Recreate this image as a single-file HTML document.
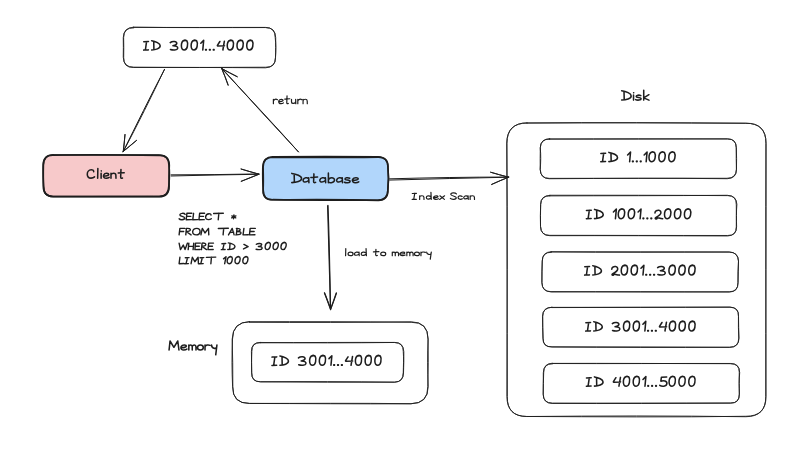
<!DOCTYPE html>
<html><head><meta charset="utf-8"><style>
html,body{margin:0;padding:0;background:#fff;width:800px;height:470px;overflow:hidden}
svg{display:block}
</style></head><body>
<svg width="800" height="470" viewBox="0 0 800 470">
<rect x="0" y="0" width="800" height="470" fill="#fff"/>
<g fill="none" stroke="#1e1e1e" stroke-linecap="round" stroke-linejoin="round">
<path d="M133.38,27.26 C177.06,27.68 221.94,27.35 265.53,27.41 Q275.31,27.5 275.18,37.45 C276.02,44.1 276.06,50.9 275.45,57.73 Q275.34,67.38 265.59,67.81 C221.94,67.41 177.06,67.51 133.83,67.18 Q123.65,67.41 123.25,57.23 C123.27,50.9 123.55,44.1 123.28,37.56 Q123.56,27.45 133.53,27.19" stroke-width="0.9"/>
<path d="M133.19,27.29 C177.06,27.72 221.94,27.59 265.37,27.56 Q275.48,27.42 275.71,37.64 C275.81,44.1 275.64,50.9 275.52,57.76 Q275.6,67.41 265.84,67.23 C221.94,67.6 177.06,67.4 133.26,67.49 Q123.31,67.57 123.69,57.55 C123.95,50.9 123.66,44.1 123.64,37.57 Q123.53,27.48 133.74,27.81" stroke-width="0.9"/>
<rect x="43.5" y="155" width="125.5" height="41.5" rx="10" fill="#f7c9ca" stroke="none"/>
<path d="M53.48,155.11 C88.31,154.3 124.19,154.74 159.1,155.35 Q169.14,154.91 168.92,165.12 C169.76,172.09 169.49,179.41 168.77,186.23 Q168.81,196.61 158.74,196.32 C124.19,196.67 88.31,196.31 53.21,196.46 Q43.52,196.66 43.72,186.75 C43.15,179.41 43.22,172.09 43.4,165.27 Q43.69,154.85 53.27,154.81" stroke-width="1.6"/>
<path d="M53.31,154.99 C88.31,155.14 124.19,154.9 158.65,154.94 Q168.95,155.03 169.32,165.13 C168.98,172.09 168.89,179.41 169.12,186.19 Q169.17,196.62 159.26,196.71 C124.19,196.67 88.31,196.68 53.22,196.59 Q43.32,196.32 43.3,186.26 C43.24,179.41 42.99,172.09 43.15,164.76 Q43.33,154.94 53.17,155.26" stroke-width="1.6"/>
<rect x="263" y="157" width="125" height="43" rx="10" fill="#b1d6fb" stroke="none"/>
<path d="M273.08,156.75 C307.65,156.6 343.35,156.64 377.9,156.74 Q388.15,157.21 387.98,166.99 C388.66,174.59 388.72,182.41 387.89,189.84 Q388.14,199.86 377.67,200.32 C343.35,199.95 307.65,200.26 273.03,199.67 Q263.01,200.2 263.25,190.14 C262.62,182.41 262.66,174.59 262.77,167.19 Q263.01,157.12 272.88,156.81" stroke-width="1.6"/>
<path d="M273.22,157.34 C307.65,157.56 343.35,157.58 378.22,157.17 Q387.89,157.01 387.9,166.67 C388.76,174.59 388.63,182.41 387.83,190.13 Q388.19,199.98 378.31,200.34 C343.35,199.27 307.65,199.67 272.8,199.81 Q262.87,199.88 263.09,190.28 C263.54,182.41 263.31,174.59 263.11,167.21 Q262.83,157.07 273.29,157.2" stroke-width="1.6"/>
<path d="M527.18,122.98 C599.27,122.42 673.73,122.91 745.88,123.21 Q766.2,122.96 765.93,143.31 C765.6,226.66 766.05,312.85 765.74,396.26 Q766.17,416.63 745.75,416.73 C673.73,415.64 599.27,415.84 526.9,416.53 Q506.85,416.3 507.33,396.6 C507.05,312.85 507.42,226.66 506.95,143.26 Q507.14,122.88 526.83,122.86" stroke-width="0.9"/>
<path d="M526.82,123.06 C599.27,122.57 673.73,122.67 745.74,123.29 Q765.94,122.98 766.06,143.28 C766.14,226.66 765.71,312.85 766,396.52 Q766.01,416.3 745.96,416.28 C673.73,417.39 599.27,416.77 526.77,416.48 Q507.09,416.52 506.88,396.51 C507.1,312.85 507.32,226.66 506.72,143.04 Q506.89,122.91 527.19,123.01" stroke-width="0.9"/>
<path d="M549.54,138.98 C608.17,139.29 668.63,139.06 727.38,138.8 Q736.31,138.88 736.27,147.82 C736.33,154.93 736.05,162.27 736.44,169.66 Q736.49,178.3 727.34,178.71 C668.63,177.99 608.17,178.37 549.24,178.36 Q540.32,178.29 540.2,169.52 C540.84,162.27 540.94,154.93 540.26,147.95 Q540.57,138.65 549.77,139.13" stroke-width="0.9"/>
<path d="M549.3,139.12 C608.17,138.68 668.63,138.72 727.64,139.03 Q736.16,138.77 736.31,147.69 C736.67,154.93 736.63,162.27 736.46,169.06 Q736.32,178.37 726.96,178.28 C668.63,178.25 608.17,178.3 549.2,178.74 Q540.62,178.6 540.22,169.24 C539.95,162.27 540.34,154.93 540.34,147.54 Q540.47,138.97 549.72,138.63" stroke-width="0.9"/>
<path d="M549.55,195.89 C608.47,195.68 668.93,195.77 727.31,195.29 Q736.68,195.57 736.3,204.91 C736.44,211.86 736.32,219.34 736.31,226.85 Q736.42,235.75 727.57,235.49 C668.93,235.54 608.47,235.31 549.64,235.34 Q540.81,235.49 540.53,226.36 C540.26,219.34 540.3,211.86 540.67,204.46 Q540.91,195.51 549.8,195.37" stroke-width="0.9"/>
<path d="M549.69,195.26 C608.47,195.3 668.93,195.13 727.76,195.64 Q736.47,195.59 736.9,204.32 C736.22,211.86 736.41,219.34 736.6,226.83 Q736.56,235.6 727.73,235.94 C668.93,235.79 608.47,235.51 549.94,235.7 Q540.76,235.54 540.49,226.34 C540.28,219.34 540.64,211.86 540.63,204.36 Q540.63,195.74 550.06,195.72" stroke-width="0.9"/>
<path d="M551.05,251.82 C609.94,251.75 670.46,251.83 728.96,251.96 Q738.1,252.19 738.53,261.03 C738.51,268.19 738.1,275.61 738.07,282.7 Q737.99,291.75 729.18,291.8 C670.46,292.16 609.94,292.01 550.85,291.63 Q542.03,291.76 541.88,282.47 C541.97,275.61 541.9,268.19 542.26,261.02 Q542.31,252.07 551.35,252.27" stroke-width="0.9"/>
<path d="M551.12,251.88 C609.94,252.58 670.46,252.14 729.36,252.1 Q738.01,252.14 738.47,261.09 C737.92,268.19 737.84,275.61 737.95,282.82 Q738.2,291.94 729.41,292.03 C670.46,291.7 609.94,291.5 551.33,291.94 Q542.09,291.6 541.94,282.7 C541.73,275.61 542.12,268.19 542.24,261.09 Q542.25,252.08 551.19,251.65" stroke-width="0.9"/>
<path d="M552.01,307.57 C610.54,307.4 671.06,307.42 729.91,307.1 Q738.9,307.3 738.5,316.24 C738.52,323.59 738.81,331.01 738.97,338.53 Q738.8,347.15 729.79,347.33 C671.06,346.88 610.54,346.94 551.9,346.9 Q542.65,347.1 542.97,338.06 C542.88,331.01 542.56,323.59 542.49,316.24 Q542.87,307.48 551.92,307.25" stroke-width="0.9"/>
<path d="M551.81,307.38 C610.54,307.36 671.06,307.15 730.08,307.19 Q739,307.58 738.46,316.37 C738.42,323.59 738.29,331.01 738.76,338.04 Q738.68,347.39 729.6,347.26 C671.06,347.63 610.54,347.44 552.12,346.94 Q542.93,347.2 543.07,338.34 C542.48,331.01 542.85,323.59 542.79,316.07 Q542.59,307.4 551.77,307.26" stroke-width="0.9"/>
<path d="M552.15,363.39 C611.14,363.28 671.66,363.57 730.05,363.68 Q739.54,363.34 739.7,372.65 C738.92,379.66 739.24,387.04 739.31,394.13 Q739.61,403.24 730.3,403.15 C671.66,403.47 611.14,403.63 552.12,403.43 Q543.31,403.38 543.22,394.04 C543.41,387.04 543.22,379.66 543.31,372.82 Q543.56,363.63 552.49,363.79" stroke-width="0.9"/>
<path d="M552.71,363.53 C611.14,363.76 671.66,363.39 730.56,363.47 Q739.51,363.56 739.25,372.18 C738.89,379.66 739.32,387.04 739.38,394.09 Q739.32,403.3 730.73,403.03 C671.66,403.01 611.14,403.21 552.44,403.13 Q543.26,403.06 543.2,394.48 C543.4,387.04 543.23,379.66 543.68,372.85 Q543.38,363.35 552.18,363.21" stroke-width="0.9"/>
<path d="M249.39,321.71 C302.83,321.58 357.77,321.56 411.15,322.27 Q428.2,321.96 428.04,339.02 C428.3,354.71 428.35,370.89 427.79,386.44 Q428.3,403.44 411.1,403.69 C357.77,403.02 302.83,403.48 249.34,403.42 Q232.46,403.58 232.82,386.84 C233.1,370.89 232.48,354.71 232.17,339.15 Q232.67,321.99 249.56,321.65" stroke-width="0.9"/>
<path d="M249.42,322.3 C302.83,322.52 357.77,322.6 411.43,321.82 Q427.94,321.85 428.12,339.13 C427.39,354.71 427.5,370.89 428.2,386.79 Q428.08,403.62 410.78,403.8 C357.77,404.03 302.83,403.52 249.6,403.46 Q232.34,403.5 232.6,386.74 C231.88,370.89 231.78,354.71 232.52,339.06 Q232.45,321.88 249.57,321.66" stroke-width="0.9"/>
<path d="M260.36,342.47 C304.72,343.05 350.28,342.92 394.77,342.48 Q403.39,342.39 403.82,351.64 C403.73,358.56 403.93,365.84 403.5,373.02 Q403.47,381.8 394.62,382.2 C350.28,382.23 304.72,382.38 260.39,381.84 Q251.58,381.77 251.71,373.07 C251.51,365.84 251.33,358.56 251.83,351.37 Q251.63,342.39 260.31,342.68" stroke-width="0.9"/>
<path d="M260.36,342.82 C304.72,342.49 350.28,342.31 394.31,342.44 Q403.57,342.69 403.25,351.43 C403.84,358.56 403.42,365.84 403.25,372.59 Q403.32,381.86 394.78,382.17 C350.28,381.62 304.72,381.43 260.8,381.78 Q251.37,382.08 251.67,372.57 C251.7,365.84 251.55,358.56 251.41,351.38 Q251.36,342.29 260.35,342.4" stroke-width="0.9"/>
<path d="M164.57,69.37 C150.34,96.18 136.69,124.32 123.11,151.69 M125.02,134.48 C124.67,140.12 123.96,145.9 123.15,151.65 M136.49,140.35 C131.96,143.86 127.58,147.82 123.17,151.61" stroke-width="1"/>
<path d="M164.46,69.32 C151.43,96.73 137.44,124.69 123.45,151.35 M124.99,134.64 C124.49,140.22 123.91,145.95 123.36,151.54 M136.51,140.48 C132.19,144.19 127.67,147.96 123.02,151.59" stroke-width="1"/>
<path d="M298.55,151.98 C273.65,124.01 247.09,96.02 221.54,68.49 M237.36,76.76 C232.17,74.09 226.82,71.32 221.67,68.5 M228.25,84.99 C226.25,79.48 224.02,73.88 221.82,68.6" stroke-width="1"/>
<path d="M298.36,151.8 C272.88,124.48 246.82,96.16 221.87,68.25 M237.09,76.69 C231.95,74.11 226.68,71.39 221.53,68.52 M228.04,85.27 C226.15,79.66 224.04,73.94 221.62,68.35" stroke-width="1"/>
<path d="M171.05,174.85 C200.01,174.86 229.84,174.42 258.64,173.96 M241.14,168.96 C246.93,170.82 252.92,172.64 258.86,174.06 M241.22,181.33 C247.04,179.01 252.99,176.54 258.89,174.09" stroke-width="1"/>
<path d="M171.16,176 C200.07,174.98 229.88,174.9 258.85,174.29 M241.06,169.08 C246.91,170.77 252.97,172.44 258.91,174.26 M241.28,181.26 C247.05,178.91 253.05,176.6 258.92,174.35" stroke-width="1"/>
<path d="M389.61,178.83 C428.87,177.69 469.32,177.07 508.88,177.05 M490.85,172.25 C496.66,174.08 502.71,175.67 508.51,177.3 M491.66,184.36 C497.27,182.05 503.04,179.62 508.5,177.15" stroke-width="1"/>
<path d="M389.7,180.07 C428.93,178.85 469.36,178.14 508.69,177.22 M490.52,172.24 C496.46,173.97 502.64,175.54 508.53,177.09 M491.61,184.52 C497.12,181.88 502.89,179.38 508.56,177.22" stroke-width="1"/>
<path d="M327.98,205.35 C329.32,239.68 329.88,275.06 330.55,309.27 M324.43,293.06 C326.56,298.42 328.61,303.99 330.55,309.37 M336.53,293.08 C334.65,298.49 332.68,304.06 330.68,309.29" stroke-width="1.15"/>
<path d="M327.6,205.84 C328.7,240.01 329.45,275.23 330.54,309.63 M324.49,292.78 C326.76,298.17 328.72,303.86 330.65,309.55 M336.25,292.94 C334.46,298.4 332.51,303.98 330.47,309.32" stroke-width="1.15"/>

</g>
<g fill="none" stroke="#1e1e1e" stroke-linecap="round" stroke-linejoin="round">
<path d="M143.77,41.8 L148.45,41.6 M146.56,41.7 L145.37,50 M143.68,50.1 L148.35,49.9 M151.64,40.7 C155.62,41.2 160.19,43.5 160.19,45.8 C160.19,48.5 155.62,49.9 151.64,49.9 M153.72,41.5 L153.92,49.4 M170.24,42.6 C172.13,40.9 177.11,41 176.81,43.4 C176.61,44.9 174.52,45.5 172.93,45.7 C175.91,45.6 178.1,46.7 177.7,48.4 C177.31,50.4 172.63,50.3 170.44,49.5 M184.27,40.6 C184.87,40 186.26,40.1 186.96,41 C187.65,42 187.75,44.5 187.36,46.5 C186.86,49 185.56,50 184.27,50 C182.48,50 181.49,48.5 181.39,46 C181.29,43.5 182.48,40.8 184.27,40.2 C185.07,40 185.66,40.2 185.86,40.6 M194.02,40.6 C194.62,40 196.01,40.1 196.71,41 C197.41,42 197.5,44.5 197.11,46.5 C196.61,49 195.32,50 194.02,50 C192.23,50 191.24,48.5 191.14,46 C191.04,43.5 192.23,40.8 194.02,40.2 C194.82,40 195.42,40.2 195.61,40.6 M200.79,43.3 L203.67,40.4 L202.78,50 M205.61,49.45 L206.31,49.95 M205.61,49.95 L206.31,49.45 M209.49,49.45 L210.19,49.95 M209.49,49.95 L210.19,49.45 M213.37,49.45 L214.07,49.95 M213.37,49.95 L214.07,49.45 M219.89,41.5 L217.4,45.4 C217.31,45.8 217.6,46 218.1,46 L224.47,45.7 M224.37,41.2 L222.88,50 M230.14,40.6 C230.74,40 232.13,40.1 232.83,41 C233.52,42 233.62,44.5 233.22,46.5 C232.73,49 231.43,50 230.14,50 C228.35,50 227.35,48.5 227.25,46 C227.16,43.5 228.35,40.8 230.14,40.2 C230.94,40 231.53,40.2 231.73,40.6 M239.89,40.6 C240.49,40 241.88,40.1 242.58,41 C243.27,42 243.37,44.5 242.98,46.5 C242.48,49 241.19,50 239.89,50 C238.1,50 237.11,48.5 237.01,46 C236.91,43.5 238.1,40.8 239.89,40.2 C240.69,40 241.28,40.2 241.48,40.6 M249.64,40.6 C250.24,40 251.63,40.1 252.33,41 C253.03,42 253.12,44.5 252.73,46.5 C252.23,49 250.94,50 249.64,50 C247.85,50 246.86,48.5 246.76,46 C246.66,43.5 247.85,40.8 249.64,40.2 C250.44,40 251.04,40.2 251.23,40.6" stroke-width="1.55"/>
<path d="M93.69,171.7 C93.79,170.3 92.57,169.8 91.24,169.8 C88.7,169.8 87.28,172 87.28,174.2 C87.28,177 89.21,178.1 91.04,178.1 C92.57,178.1 93.79,177.6 94.5,176.9 M97.86,168.5 L97.66,178.3 M101.12,173.3 L101.12,178.3 M101.22,170.9 L101.27,171 M103.66,175.9 C105.6,176 108.75,175.7 108.75,174.4 C108.65,173 104.88,172.7 103.66,175 C102.85,177.1 104.58,178.4 106.31,178.3 C107.53,178.3 108.55,177.9 109.16,177.4 M110.99,178.3 L110.99,173.3 M110.99,174.7 C111.91,172.9 115.78,172.5 115.88,175.2 L115.98,178.3 M120.97,169.5 L120.66,177.1 C120.66,178.3 121.48,178.5 122.49,178 M118.22,173 L124.22,172.7" stroke-width="1.55"/>
<path d="M291.77,173.4 C296.32,173.9 301.55,176.2 301.55,178.5 C301.55,181.2 296.32,182.6 291.77,182.6 M294.16,174.2 L294.39,182.1 M308.6,178.7 C307.57,177.3 303.71,177.3 303.14,180 C302.69,182.3 305.76,183 308.6,180.5 M308.71,177.7 L308.94,182.7 M313.94,173.9 L313.6,181.5 C313.6,182.7 314.51,182.9 315.65,182.4 M310.87,177.4 L317.58,177.1 M325.31,178.7 C324.28,177.3 320.42,177.3 319.85,180 C319.4,182.3 322.47,183 325.31,180.5 M325.42,177.7 L325.65,182.7 M328.38,172.9 L328.38,182.7 M328.38,180 C329.17,177.3 334.51,176.9 334.51,180 C334.51,182.7 330.19,183.1 328.38,182.3 M342.13,178.7 C341.11,177.3 337.24,177.3 336.67,180 C336.22,182.3 339.29,183 342.13,180.5 M342.24,177.7 L342.47,182.7 M349.75,178.2 C347.93,177.3 344.86,177.7 344.97,179.1 C345.2,180.4 350.09,179.8 350.09,181.4 C350.09,182.9 345.88,183 344.4,182.2 M352.59,180.3 C354.75,180.4 358.27,180.1 358.27,178.8 C358.16,177.4 353.95,177.1 352.59,179.4 C351.68,181.5 353.61,182.8 355.54,182.7 C356.91,182.7 358.04,182.3 358.73,181.8" stroke-width="1.55"/>
<path d="M621.67,90.8 C626.11,91.3 631.2,93.6 631.2,95.9 C631.2,98.6 626.11,100 621.67,100 M624,91.6 L624.22,99.5 M633.53,95.1 L633.53,100.1 M633.64,92.7 L633.69,92.8 M640.84,95.6 C639.07,94.7 636.08,95.1 636.19,96.5 C636.41,97.8 641.17,97.2 641.17,98.8 C641.17,100.3 637.07,100.4 635.63,99.6 M643.72,90.3 L643.72,100.1 M648.93,94.7 L643.72,97.9 L648.93,100.1" stroke-width="1.55"/>
<path d="M169.08,350 L170.04,341 L173.9,347.3 L177.77,341 L178.95,350 M181.09,347.6 C183.13,347.7 186.46,347.4 186.46,346.1 C186.35,344.7 182.38,344.4 181.09,346.7 C180.23,348.8 182.06,350.1 183.88,350 C185.17,350 186.24,349.6 186.88,349.1 M188.82,350 L188.82,345 M188.82,346.2 C189.57,344.6 192.14,344.2 192.25,346.9 L192.25,350 M192.25,346.4 C193.11,344.6 195.79,344.2 196,346.9 L196,350 M200.3,345 C197.94,345 197.51,346.9 197.51,347.8 C197.51,349.6 198.9,350 200.3,350 C202.01,350 203.3,349.1 203.3,347.5 C203.3,345.9 202.01,345 200.3,345 M205.02,345 L205.02,350 M205.02,346.7 C205.77,345 208.23,344.4 210.06,345.4 M211.56,345 C211.56,348.6 215.96,349.3 216.71,346.9 M216.92,345 L215.74,354.8" stroke-width="1.55"/>
<path d="M600.88,153.5 L605.62,153.3 M603.7,153.4 L602.49,161.7 M600.77,161.8 L605.52,161.6 M608.85,152.4 C612.88,152.9 617.52,155.2 617.52,157.5 C617.52,160.2 612.88,161.6 608.85,161.6 M610.96,153.2 L611.17,161.1 M627.61,155 L630.53,152.1 L629.63,161.7 M632.5,161.15 L633.21,161.65 M632.5,161.65 L633.21,161.15 M636.44,161.15 L637.14,161.65 M636.44,161.65 L637.14,161.15 M640.37,161.15 L641.08,161.65 M640.37,161.65 L641.08,161.15 M644.15,155 L647.08,152.1 L646.17,161.7 M651.92,152.3 C652.53,151.7 653.94,151.8 654.65,152.7 C655.35,153.7 655.45,156.2 655.05,158.2 C654.54,160.7 653.23,161.7 651.92,161.7 C650.11,161.7 649.1,160.2 649,157.7 C648.9,155.2 650.11,152.5 651.92,151.9 C652.73,151.7 653.33,151.9 653.54,152.3 M661.81,152.3 C662.41,151.7 663.83,151.8 664.53,152.7 C665.24,153.7 665.34,156.2 664.94,158.2 C664.43,160.7 663.12,161.7 661.81,161.7 C659.99,161.7 658.98,160.2 658.88,157.7 C658.78,155.2 659.99,152.5 661.81,151.9 C662.61,151.7 663.22,151.9 663.42,152.3 M671.69,152.3 C672.3,151.7 673.71,151.8 674.42,152.7 C675.12,153.7 675.23,156.2 674.82,158.2 C674.32,160.7 673.01,161.7 671.69,161.7 C669.88,161.7 668.87,160.2 668.77,157.7 C668.67,155.2 669.88,152.5 671.69,151.9 C672.5,151.7 673.11,151.9 673.31,152.3" stroke-width="1.55"/>
<path d="M586.48,210.5 L591.25,210.3 M589.32,210.4 L588.1,218.7 M586.38,218.8 L591.15,218.6 M594.5,209.4 C598.57,209.9 603.24,212.2 603.24,214.5 C603.24,217.2 598.57,218.6 594.5,218.6 M596.64,210.2 L596.84,218.1 M613.4,212 L616.35,209.1 L615.43,218.7 M621.23,209.3 C621.83,208.7 623.26,208.8 623.97,209.7 C624.68,210.7 624.78,213.2 624.37,215.2 C623.87,217.7 622.55,218.7 621.23,218.7 C619.4,218.7 618.38,217.2 618.28,214.7 C618.18,212.2 619.4,209.5 621.23,208.9 C622.04,208.7 622.65,208.9 622.85,209.3 M631.18,209.3 C631.79,208.7 633.21,208.8 633.93,209.7 C634.64,210.7 634.74,213.2 634.33,215.2 C633.82,217.7 632.5,218.7 631.18,218.7 C629.35,218.7 628.34,217.2 628.24,214.7 C628.13,212.2 629.35,209.5 631.18,208.9 C631.99,208.7 632.6,208.9 632.81,209.3 M638.09,212 L641.04,209.1 L640.12,218.7 M643.02,218.15 L643.73,218.65 M643.02,218.65 L643.73,218.15 M646.98,218.15 L647.69,218.65 M646.98,218.65 L647.69,218.15 M650.94,218.15 L651.66,218.65 M650.94,218.65 L651.66,218.15 M654.96,212.9 C654.96,210.7 657.29,210.1 658.82,210.3 C660.34,210.5 661.16,211.7 660.85,213.2 C660.44,215.2 657.29,216.7 655.77,217.6 C654.86,218.2 655.16,219.1 656.18,219 C657.19,218.9 657.4,217.7 656.38,217.5 C658.31,217.7 660.34,218.7 662.68,218.8 M667.45,209.3 C668.06,208.7 669.49,208.8 670.2,209.7 C670.91,210.7 671.01,213.2 670.6,215.2 C670.1,217.7 668.78,218.7 667.45,218.7 C665.63,218.7 664.61,217.2 664.51,214.7 C664.41,212.2 665.63,209.5 667.45,208.9 C668.27,208.7 668.88,208.9 669.08,209.3 M677.41,209.3 C678.02,208.7 679.44,208.8 680.16,209.7 C680.87,210.7 680.97,213.2 680.56,215.2 C680.05,217.7 678.73,218.7 677.41,218.7 C675.58,218.7 674.57,217.2 674.47,214.7 C674.36,212.2 675.58,209.5 677.41,208.9 C678.22,208.7 678.83,208.9 679.04,209.3 M687.37,209.3 C687.98,208.7 689.4,208.8 690.11,209.7 C690.82,210.7 690.93,213.2 690.52,215.2 C690.01,217.7 688.69,218.7 687.37,218.7 C685.54,218.7 684.52,217.2 684.42,214.7 C684.32,212.2 685.54,209.5 687.37,208.9 C688.18,208.7 688.79,208.9 688.99,209.3" stroke-width="1.55"/>
<path d="M584.78,266.8 L589.53,266.6 M587.61,266.7 L586.39,275 M584.67,275.1 L589.42,274.9 M592.76,265.7 C596.8,266.2 601.45,268.5 601.45,270.8 C601.45,273.5 596.8,274.9 592.76,274.9 M594.88,266.5 L595.08,274.4 M611.76,269.2 C611.76,267 614.08,266.4 615.6,266.6 C617.11,266.8 617.92,268 617.62,269.5 C617.21,271.5 614.08,273 612.57,273.9 C611.66,274.5 611.96,275.4 612.97,275.3 C613.98,275.2 614.18,274 613.17,273.8 C615.09,274 617.11,275 619.44,275.1 M624.19,265.6 C624.79,265 626.21,265.1 626.91,266 C627.62,267 627.72,269.5 627.32,271.5 C626.81,274 625.5,275 624.19,275 C622.37,275 621.36,273.5 621.26,271 C621.15,268.5 622.37,265.8 624.19,265.2 C624.99,265 625.6,265.2 625.8,265.6 M634.09,265.6 C634.7,265 636.11,265.1 636.82,266 C637.52,267 637.63,269.5 637.22,271.5 C636.72,274 635.4,275 634.09,275 C632.27,275 631.26,273.5 631.16,271 C631.06,268.5 632.27,265.8 634.09,265.2 C634.9,265 635.5,265.2 635.71,265.6 M640.96,268.3 L643.89,265.4 L642.98,275 M645.86,274.45 L646.57,274.95 M645.86,274.95 L646.57,274.45 M649.8,274.45 L650.51,274.95 M649.8,274.95 L650.51,274.45 M653.74,274.45 L654.45,274.95 M653.74,274.95 L654.45,274.45 M657.63,267.6 C659.55,265.9 664.61,266 664.3,268.4 C664.1,269.9 661.98,270.5 660.36,270.7 C663.39,270.6 665.62,271.7 665.21,273.4 C664.81,275.4 660.06,275.3 657.84,274.5 M671.88,265.6 C672.49,265 673.9,265.1 674.61,266 C675.32,267 675.42,269.5 675.01,271.5 C674.51,274 673.2,275 671.88,275 C670.06,275 669.05,273.5 668.95,271 C668.85,268.5 670.06,265.8 671.88,265.2 C672.69,265 673.3,265.2 673.5,265.6 M681.79,265.6 C682.39,265 683.81,265.1 684.51,266 C685.22,267 685.32,269.5 684.92,271.5 C684.41,274 683.1,275 681.79,275 C679.97,275 678.96,273.5 678.85,271 C678.75,268.5 679.97,265.8 681.79,265.2 C682.59,265 683.2,265.2 683.4,265.6 M691.69,265.6 C692.29,265 693.71,265.1 694.42,266 C695.12,267 695.23,269.5 694.82,271.5 C694.32,274 693,275 691.69,275 C689.87,275 688.86,273.5 688.76,271 C688.66,268.5 689.87,265.8 691.69,265.2 C692.5,265 693.1,265.2 693.31,265.6" stroke-width="1.55"/>
<path d="M585.87,322.8 L590.55,322.6 M588.66,322.7 L587.47,331 M585.77,331.1 L590.45,330.9 M593.74,321.7 C597.72,322.2 602.29,324.5 602.29,326.8 C602.29,329.5 597.72,330.9 593.74,330.9 M595.82,322.5 L596.02,330.4 M612.34,323.6 C614.23,321.9 619.21,322 618.91,324.4 C618.71,325.9 616.62,326.5 615.03,326.7 C618.01,326.6 620.2,327.7 619.8,329.4 C619.41,331.4 614.73,331.3 612.54,330.5 M626.37,321.6 C626.97,321 628.36,321.1 629.06,322 C629.75,323 629.85,325.5 629.46,327.5 C628.96,330 627.66,331 626.37,331 C624.58,331 623.59,329.5 623.49,327 C623.39,324.5 624.58,321.8 626.37,321.2 C627.17,321 627.76,321.2 627.96,321.6 M636.12,321.6 C636.72,321 638.11,321.1 638.81,322 C639.5,323 639.6,325.5 639.21,327.5 C638.71,330 637.42,331 636.12,331 C634.33,331 633.34,329.5 633.24,327 C633.14,324.5 634.33,321.8 636.12,321.2 C636.92,321 637.51,321.2 637.71,321.6 M642.89,324.3 L645.77,321.4 L644.88,331 M647.71,330.45 L648.41,330.95 M647.71,330.95 L648.41,330.45 M651.59,330.45 L652.29,330.95 M651.59,330.95 L652.29,330.45 M655.47,330.45 L656.17,330.95 M655.47,330.95 L656.17,330.45 M661.99,322.5 L659.5,326.4 C659.4,326.8 659.7,327 660.2,327 L666.57,326.7 M666.47,322.2 L664.98,331 M672.24,321.6 C672.84,321 674.23,321.1 674.93,322 C675.62,323 675.72,325.5 675.33,327.5 C674.83,330 673.53,331 672.24,331 C670.45,331 669.45,329.5 669.36,327 C669.26,324.5 670.45,321.8 672.24,321.2 C673.04,321 673.63,321.2 673.83,321.6 M681.99,321.6 C682.59,321 683.98,321.1 684.68,322 C685.37,323 685.47,325.5 685.08,327.5 C684.58,330 683.29,331 681.99,331 C680.2,331 679.21,329.5 679.11,327 C679.01,324.5 680.2,321.8 681.99,321.2 C682.79,321 683.38,321.2 683.58,321.6 M691.74,321.6 C692.34,321 693.73,321.1 694.43,322 C695.13,323 695.23,325.5 694.83,327.5 C694.33,330 693.04,331 691.74,331 C689.95,331 688.96,329.5 688.86,327 C688.76,324.5 689.95,321.8 691.74,321.2 C692.54,321 693.14,321.2 693.33,321.6" stroke-width="1.55"/>
<path d="M586.48,378 L591.2,377.8 M589.29,377.9 L588.08,386.2 M586.38,386.3 L591.1,386.1 M594.42,376.9 C598.44,377.4 603.06,379.7 603.06,382 C603.06,384.7 598.44,386.1 594.42,386.1 M596.53,377.7 L596.73,385.6 M615.92,377.7 L613.41,381.6 C613.31,382 613.61,382.2 614.12,382.2 L620.55,381.9 M620.45,377.4 L618.94,386.2 M626.28,376.8 C626.88,376.2 628.29,376.3 628.99,377.2 C629.69,378.2 629.79,380.7 629.39,382.7 C628.89,385.2 627.58,386.2 626.28,386.2 C624.47,386.2 623.46,384.7 623.36,382.2 C623.26,379.7 624.47,377 626.28,376.4 C627.08,376.2 627.68,376.4 627.88,376.8 M636.13,376.8 C636.73,376.2 638.14,376.3 638.84,377.2 C639.54,378.2 639.64,380.7 639.24,382.7 C638.74,385.2 637.43,386.2 636.13,386.2 C634.32,386.2 633.31,384.7 633.21,382.2 C633.11,379.7 634.32,377 636.13,376.4 C636.93,376.2 637.53,376.4 637.73,376.8 M642.96,379.5 L645.88,376.6 L644.97,386.2 M647.84,385.65 L648.54,386.15 M647.84,386.15 L648.54,385.65 M651.76,385.65 L652.46,386.15 M651.76,386.15 L652.46,385.65 M655.68,385.65 L656.38,386.15 M655.68,386.15 L656.38,385.65 M666.68,377 L661.45,377.2 L660.85,381.2 C663.46,380.1 667.18,381 666.88,383.7 C666.48,386.7 661.66,386.7 659.75,385.3 M672.01,376.8 C672.61,376.2 674.02,376.3 674.72,377.2 C675.42,378.2 675.53,380.7 675.12,382.7 C674.62,385.2 673.31,386.2 672.01,386.2 C670.2,386.2 669.19,384.7 669.09,382.2 C668.99,379.7 670.2,377 672.01,376.4 C672.81,376.2 673.41,376.4 673.62,376.8 M681.86,376.8 C682.46,376.2 683.87,376.3 684.57,377.2 C685.27,378.2 685.38,380.7 684.97,382.7 C684.47,385.2 683.16,386.2 681.86,386.2 C680.05,386.2 679.04,384.7 678.94,382.2 C678.84,379.7 680.05,377 681.86,376.4 C682.66,376.2 683.26,376.4 683.47,376.8 M691.71,376.8 C692.31,376.2 693.72,376.3 694.42,377.2 C695.12,378.2 695.23,380.7 694.82,382.7 C694.32,385.2 693.01,386.2 691.71,386.2 C689.9,386.2 688.89,384.7 688.79,382.2 C688.69,379.7 689.9,377 691.71,376.4 C692.51,376.2 693.11,376.4 693.32,376.8" stroke-width="1.55"/>
<path d="M272.07,357.1 L276.74,356.9 M274.86,357 L273.66,365.3 M271.97,365.4 L276.64,365.2 M279.92,356 C283.89,356.5 288.46,358.8 288.46,361.1 C288.46,363.8 283.89,365.2 279.92,365.2 M282.01,356.8 L282.2,364.7 M298.49,357.9 C300.38,356.2 305.35,356.3 305.05,358.7 C304.85,360.2 302.76,360.8 301.17,361 C304.15,360.9 306.34,362 305.94,363.7 C305.54,365.7 300.88,365.6 298.69,364.8 M312.5,355.9 C313.09,355.3 314.48,355.4 315.18,356.3 C315.87,357.3 315.97,359.8 315.58,361.8 C315.08,364.3 313.79,365.3 312.5,365.3 C310.71,365.3 309.72,363.8 309.62,361.3 C309.52,358.8 310.71,356.1 312.5,355.5 C313.29,355.3 313.89,355.5 314.09,355.9 M322.23,355.9 C322.83,355.3 324.22,355.4 324.91,356.3 C325.61,357.3 325.71,359.8 325.31,361.8 C324.81,364.3 323.52,365.3 322.23,365.3 C320.44,365.3 319.45,363.8 319.35,361.3 C319.25,358.8 320.44,356.1 322.23,355.5 C323.02,355.3 323.62,355.5 323.82,355.9 M328.98,358.6 L331.86,355.7 L330.97,365.3 M333.8,364.75 L334.5,365.25 M333.8,365.25 L334.5,364.75 M337.67,364.75 L338.37,365.25 M337.67,365.25 L338.37,364.75 M341.55,364.75 L342.24,365.25 M341.55,365.25 L342.24,364.75 M348.05,356.8 L345.57,360.7 C345.47,361.1 345.77,361.3 346.26,361.3 L352.62,361 M352.52,356.5 L351.03,365.3 M358.28,355.9 C358.88,355.3 360.27,355.4 360.96,356.3 C361.66,357.3 361.76,359.8 361.36,361.8 C360.86,364.3 359.57,365.3 358.28,365.3 C356.49,365.3 355.5,363.8 355.4,361.3 C355.3,358.8 356.49,356.1 358.28,355.5 C359.08,355.3 359.67,355.5 359.87,355.9 M368.02,355.9 C368.61,355.3 370,355.4 370.7,356.3 C371.39,357.3 371.49,359.8 371.09,361.8 C370.6,364.3 369.31,365.3 368.02,365.3 C366.23,365.3 365.23,363.8 365.14,361.3 C365.04,358.8 366.23,356.1 368.02,355.5 C368.81,355.3 369.41,355.5 369.6,355.9 M377.75,355.9 C378.34,355.3 379.74,355.4 380.43,356.3 C381.13,357.3 381.23,359.8 380.83,361.8 C380.33,364.3 379.04,365.3 377.75,365.3 C375.96,365.3 374.97,363.8 374.87,361.3 C374.77,358.8 375.96,356.1 377.75,355.5 C378.54,355.3 379.14,355.5 379.34,355.9" stroke-width="1.55"/>
<path d="M273.4,99.3 L273.4,103.7 M273.4,100.8 C274,99.3 275.99,98.77 277.45,99.65 M278.83,101.59 C280.47,101.68 283.15,101.41 283.15,100.27 C283.06,99.04 279.87,98.77 278.83,100.8 C278.14,102.64 279.61,103.79 281.08,103.7 C282.11,103.7 282.97,103.35 283.49,102.91 M287.03,95.96 L286.77,102.64 C286.77,103.7 287.46,103.88 288.32,103.44 M284.7,99.04 L289.79,98.77 M291.51,99.3 L291.51,102.12 C291.6,103.96 295.05,103.96 295.65,101.76 M295.65,99.3 L295.83,103.7 M297.81,99.3 L297.81,103.7 M297.81,100.8 C298.42,99.3 300.4,98.77 301.87,99.65 M303.07,103.7 L303.07,99.3 M303.07,100.53 C303.85,98.95 307.13,98.6 307.21,100.97 L307.3,103.7" stroke-width="1.2"/>
<path d="M412.29,193.5 L416.46,193.35 M414.77,193.42 L413.71,199.4 M412.2,199.47 L416.37,199.33 M419.65,199.4 L419.65,195.8 M419.65,196.81 C420.45,195.51 423.83,195.22 423.91,197.17 L424,199.4 M430.57,196.45 C429.51,195.51 426.31,195.51 426.31,197.6 C426.31,199.4 429.15,199.69 430.57,198.25 M430.93,192.34 L431.28,199.4 M433.59,197.67 C435.27,197.74 438.03,197.53 438.03,196.59 C437.94,195.58 434.65,195.37 433.59,197.02 C432.88,198.54 434.39,199.47 435.9,199.4 C436.96,199.4 437.85,199.11 438.38,198.75 M439.89,195.8 L444.41,199.4 M444.59,195.8 L439.62,199.4 M456.4,193.93 C455.15,192.42 450.72,192.63 450.8,194.5 C450.98,196.16 456.13,195.87 456.31,197.74 C456.4,199.62 451.6,199.76 450.36,198.39 M462.16,196.45 C460.92,195.51 458.08,195.66 458.08,197.6 C458.08,199.4 460.92,199.69 462.34,198.75 M468.02,196.52 C467.22,195.51 464.21,195.51 463.76,197.46 C463.41,199.11 465.8,199.62 468.02,197.82 M468.11,195.8 L468.29,199.4 M470.15,199.4 L470.15,195.8 M470.15,196.81 C470.95,195.51 474.32,195.22 474.41,197.17 L474.5,199.4" stroke-width="1.2"/>
<path d="M345.79,248.64 L345.6,255.7 M350.45,252.1 C348.4,252.1 348.03,253.47 348.03,254.12 C348.03,255.41 349.24,255.7 350.45,255.7 C351.95,255.7 353.07,255.05 353.07,253.9 C353.07,252.75 351.95,252.1 350.45,252.1 M358.95,252.82 C358.11,251.81 354.94,251.81 354.47,253.76 C354.1,255.41 356.62,255.92 358.95,254.12 M359.04,252.1 L359.23,255.7 M365.67,252.75 C364.55,251.81 361.19,251.81 361.19,253.9 C361.19,255.7 364.18,255.99 365.67,254.55 M366.04,248.64 L366.42,255.7 M375.94,249.36 L375.66,254.84 C375.66,255.7 376.41,255.84 377.34,255.48 M373.42,251.88 L378.93,251.67 M383.13,252.1 C381.07,252.1 380.7,253.47 380.7,254.12 C380.7,255.41 381.92,255.7 383.13,255.7 C384.62,255.7 385.74,255.05 385.74,253.9 C385.74,252.75 384.62,252.1 383.13,252.1 M392.28,255.7 L392.28,252.1 M392.28,252.96 C392.93,251.81 395.17,251.52 395.26,253.47 L395.26,255.7 M395.26,253.11 C396.01,251.81 398.35,251.52 398.53,253.47 L398.53,255.7 M400.12,253.97 C401.89,254.04 404.79,253.83 404.79,252.89 C404.69,251.88 401.24,251.67 400.12,253.32 C399.37,254.84 400.96,255.77 402.55,255.7 C403.67,255.7 404.6,255.41 405.16,255.05 M406.84,255.7 L406.84,252.1 M406.84,252.96 C407.49,251.81 409.73,251.52 409.83,253.47 L409.83,255.7 M409.83,253.11 C410.58,251.81 412.91,251.52 413.1,253.47 L413.1,255.7 M416.83,252.1 C414.78,252.1 414.4,253.47 414.4,254.12 C414.4,255.41 415.62,255.7 416.83,255.7 C418.32,255.7 419.44,255.05 419.44,253.9 C419.44,252.75 418.32,252.1 416.83,252.1 M420.94,252.1 L420.94,255.7 M420.94,253.32 C421.59,252.1 423.74,251.67 425.33,252.39 M426.63,252.1 C426.63,254.69 430.46,255.2 431.11,253.47 M431.3,252.1 L430.27,259.16" stroke-width="1.2"/>
<path d="M185.14,214.33 C184.12,212.82 179.96,213.03 179.87,214.9 C179.88,216.56 184.71,216.27 184.71,218.14 C184.62,220.02 180.13,220.16 179.1,218.79 M191.85,213.32 L186.89,213.32 L186.21,219.8 L191.52,219.66 M186.6,216.42 L190.74,216.42 M193.59,213.32 L192.75,219.8 L197.73,219.58 M204.6,213.32 L199.63,213.32 L198.96,219.8 L204.27,219.66 M199.35,216.42 L203.49,216.42 M210.98,215.05 C211.16,214.04 210.2,213.68 209.12,213.68 C207.05,213.68 205.75,215.26 205.6,216.85 C205.42,218.86 206.92,219.66 208.41,219.66 C209.65,219.66 210.67,219.3 211.3,218.79 M213.61,213.46 L223.32,213.18 M218.84,213.32 L218.24,219.8 M233.92,214.98 L233.57,218.79 M231.84,215.91 L235.72,217.86 M231.67,217.86 L235.9,215.91" stroke-width="1.4"/>
<path d="M184.85,228.42 L179.89,228.42 L179.1,234.9 M179.59,231.52 L183.71,231.44 M185.78,234.9 L186.39,228.42 C191.75,227.92 191.75,231.52 186.1,231.52 L191.08,234.9 M196.84,228.42 C194.1,228.42 192.83,230.08 192.68,231.66 C192.49,233.6 193.91,234.9 196.22,234.9 C198.53,234.9 199.88,233.32 200.04,231.66 C200.22,229.72 198.8,228.42 196.84,228.42 M200.93,234.9 L202.31,228.42 L204.96,232.96 L208.48,228.42 L208.8,234.9 M218.31,228.56 L228.35,228.28 M223.71,228.42 L223.1,234.9 M228.49,234.9 L232.19,228.42 L234.14,234.9 M230.01,232.45 L233.72,232.16 M236.98,228.42 L236.37,234.9 M236.38,228.42 C240.7,228.06 241.98,230.72 236.86,231.52 C242.79,231.3 242.25,235.12 235.77,234.9 M243.92,228.42 L243.04,234.9 L248.2,234.68 M255.3,228.42 L250.16,228.42 L249.46,234.9 L254.95,234.76 M249.87,231.52 L254.15,231.52" stroke-width="1.4"/>
<path d="M179.1,243.12 L180.45,249.6 L183.28,245.06 L185.05,249.6 L187.48,243.12 M188.85,243.12 L188.19,249.6 M193.77,243.12 L193.11,249.6 M188.56,246.36 L193.41,246.22 M200.38,243.12 L195.54,243.12 L194.88,249.6 L200.05,249.46 M195.26,246.22 L199.29,246.22 M201.49,249.6 L202.07,243.12 C207.11,242.62 207.11,246.22 201.79,246.22 L206.48,249.6 M213.51,243.12 L208.68,243.12 L208.02,249.6 L213.19,249.46 M208.4,246.22 L212.43,246.22 M221.92,243.7 L225.72,243.55 M224.18,243.62 L222.68,249.6 M221.31,249.67 L225.11,249.53 M228.36,242.9 C231.55,243.26 235.11,244.92 234.96,246.58 C234.79,248.52 230.99,249.53 227.77,249.53 M230,243.48 L229.65,249.17 M243.94,244.42 L248.08,246.72 L243.53,248.95 M256.36,244.27 C258,243.05 262.03,243.12 261.63,244.85 C261.37,245.93 259.64,246.36 258.34,246.5 C260.76,246.43 262.46,247.22 262.03,248.45 C261.58,249.89 257.8,249.82 256.08,249.24 M267.85,242.83 C268.38,242.4 269.5,242.47 270,243.12 C270.5,243.84 270.42,245.64 269.97,247.08 C269.41,248.88 268.3,249.6 267.25,249.6 C265.8,249.6 265.09,248.52 265.17,246.72 C265.25,244.92 266.39,242.98 267.88,242.54 C268.54,242.4 269.01,242.54 269.14,242.83 M275.75,242.83 C276.27,242.4 277.4,242.47 277.9,243.12 C278.4,243.84 278.32,245.64 277.87,247.08 C277.31,248.88 276.19,249.6 275.15,249.6 C273.7,249.6 272.99,248.52 273.07,246.72 C273.15,244.92 274.29,242.98 275.78,242.54 C276.44,242.4 276.91,242.54 277.04,242.83 M283.65,242.83 C284.17,242.4 285.29,242.47 285.8,243.12 C286.3,243.84 286.22,245.64 285.77,247.08 C285.2,248.88 284.09,249.6 283.04,249.6 C281.59,249.6 280.88,248.52 280.96,246.72 C281.05,244.92 282.19,242.98 283.68,242.54 C284.33,242.4 284.8,242.54 284.94,242.83" stroke-width="1.4"/>
<path d="M179.91,257.22 L179.1,263.7 L183.91,263.48 M185.29,257.8 L189.06,257.65 M187.53,257.72 L186.04,263.7 M184.68,263.77 L188.45,263.63 M191.07,263.7 L192.37,257.22 L194.84,261.76 L198.11,257.22 L198.42,263.7 M200.06,257.8 L203.82,257.65 M202.3,257.72 L200.81,263.7 M199.45,263.77 L203.21,263.63 M206.4,257.36 L215.77,257.08 M211.44,257.22 L210.87,263.7 M223.51,258.88 L226.01,256.79 L224.68,263.7 M229.83,256.93 C230.35,256.5 231.46,256.57 231.96,257.22 C232.45,257.94 232.37,259.74 231.93,261.18 C231.37,262.98 230.27,263.7 229.23,263.7 C227.79,263.7 227.09,262.62 227.17,260.82 C227.25,259.02 228.38,257.08 229.86,256.64 C230.51,256.5 230.97,256.64 231.11,256.93 M237.65,256.93 C238.17,256.5 239.28,256.57 239.78,257.22 C240.28,257.94 240.2,259.74 239.75,261.18 C239.19,262.98 238.09,263.7 237.05,263.7 C235.62,263.7 234.91,262.62 234.99,260.82 C235.07,259.02 236.2,257.08 237.68,256.64 C238.33,256.5 238.8,256.64 238.93,256.93 M245.48,256.93 C245.99,256.5 247.1,256.57 247.61,257.22 C248.1,257.94 248.02,259.74 247.57,261.18 C247.01,262.98 245.91,263.7 244.88,263.7 C243.44,263.7 242.74,262.62 242.82,260.82 C242.9,259.02 244.03,257.08 245.5,256.64 C246.15,256.5 246.62,256.64 246.75,256.93" stroke-width="1.4"/>

</g>
</svg>
</body></html>
